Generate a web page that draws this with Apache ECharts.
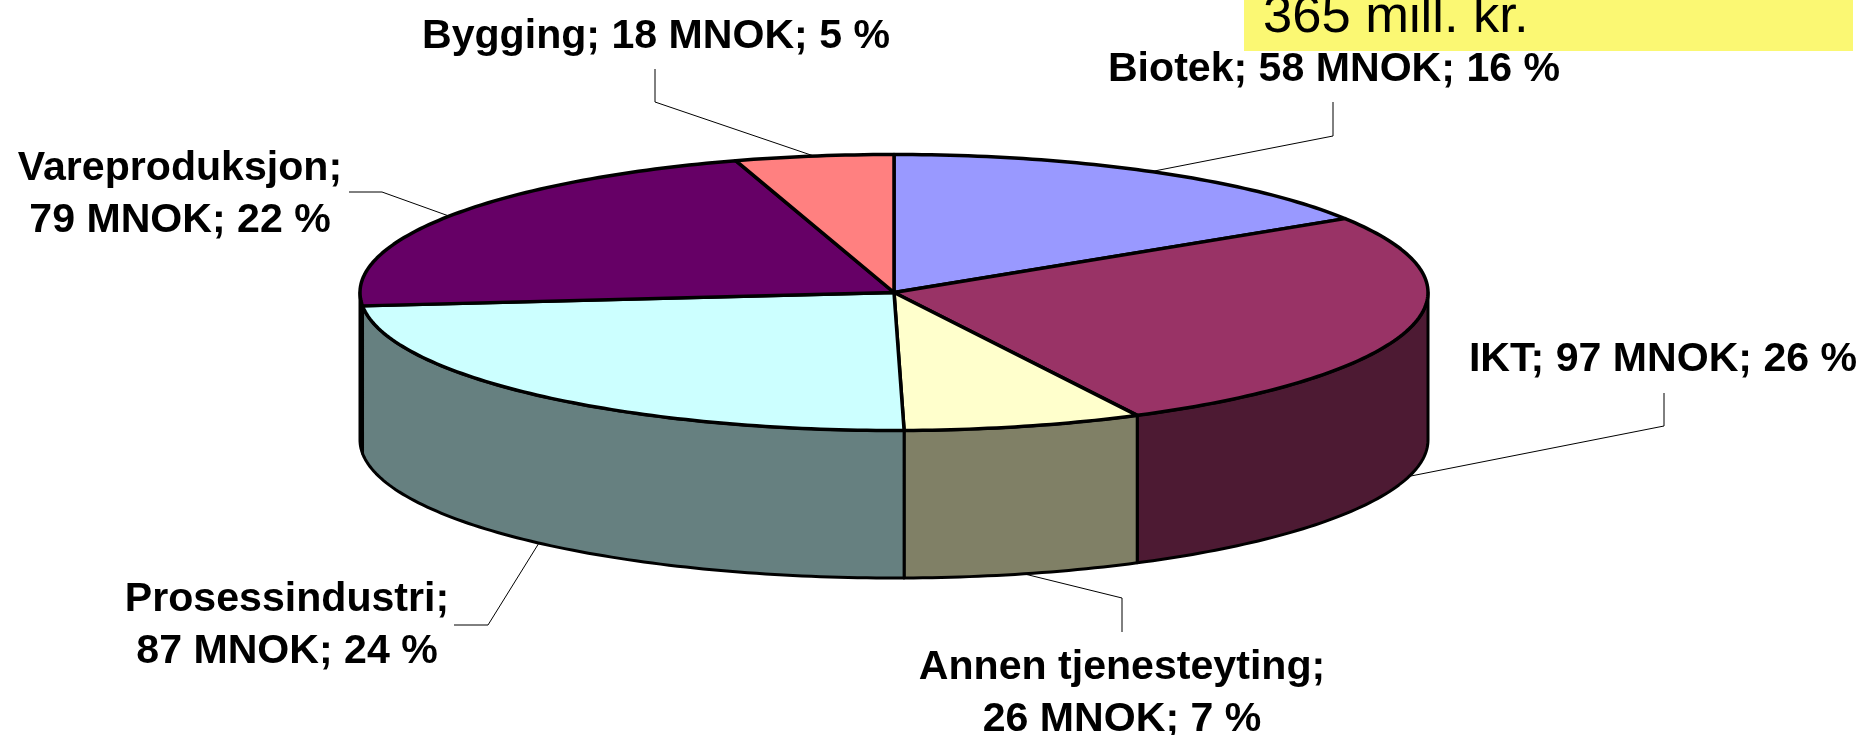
<!DOCTYPE html>
<html>
<head>
<meta charset="utf-8">
<title>365 mill. kr.</title>
<style>
  html, body { margin: 0; padding: 0; background: #fff; }
  #chart { width: 1865px; height: 735px; }
</style>
<script src="https://cdn.jsdelivr.net/npm/echarts@6/dist/echarts.min.js"></script>
</head>
<body>
<div id="chart"></div>
<script>
// values, labels round them to whole MNOK / %
var categories = ['Biotek', 'IKT', 'Annen tjenesteyting', 'Prosessindustri', 'Vareproduksjon', 'Bygging'];
var amounts = [58.49, 96.7, 26.4, 86.8, 79.49, 17.5];
var totalLabel = '365 mill. kr.';
var topColors = ['#9999FF', '#993366', '#FFFFCC', '#CCFFFF', '#660066', '#FF8080'];
var wallColors = ['#4D4D80', '#4D1A33', '#808066', '#668080', '#330033', '#804040'];

// pie layout in pixels
var cx = 894, cy = 292.5, rx = 534, ry = 138, depth = 147.5;
var labelFont = 'bold 41.1px "Liberation Sans", Arial, sans-serif';

// text centre, line break, leader elbow and end for each slice
var labelLayout = [
  { x: 1334, y: 70, wrap: false, elbow: [1333, 136], end: [1333, 102] },
  { x: 1663, y: 360, wrap: false, elbow: [1664, 426], end: [1664, 393] },
  { x: 1122, y: 694, wrap: true, elbow: [1122, 598], end: [1122, 632] },
  { x: 287, y: 626, wrap: true, elbow: [488, 625], end: [454, 625] },
  { x: 180, y: 195, wrap: true, elbow: [382, 192], end: [349, 192] },
  { x: 656, y: 37, wrap: false, elbow: [655, 102], end: [655, 69] }
];

var sum = amounts.reduce(function (a, b) { return a + b; }, 0);

function rimPoint(deg, drop) {
  var rad = deg * Math.PI / 180;
  return [cx + rx * Math.sin(rad), cy - ry * Math.cos(rad) + drop];
}

function arcPoints(from, to, drop) {
  var pts = [];
  for (var a = from; a < to; a += 1) {
    pts.push(rimPoint(a, drop));
  }
  pts.push(rimPoint(to, drop));
  return pts;
}

function renderSlice(params, api) {
  var i = params.dataIndex;
  var before = amounts.slice(0, i).reduce(function (a, b) { return a + b; }, 0);
  var start = before / sum * 360;
  var end = (before + api.value(0)) / sum * 360;
  var mid = (start + end) / 2;
  var children = [];

  // only the front half has a visible wall
  var wallFrom = Math.max(start, 90);
  var wallTo = Math.min(end, 270);
  if (wallFrom < wallTo) {
    children.push({
      type: 'polygon',
      z2: 1,
      shape: { points: arcPoints(wallFrom, wallTo, 0).concat(arcPoints(wallFrom, wallTo, depth).reverse()) },
      style: { fill: wallColors[i], stroke: '#000', lineWidth: 3, lineJoin: 'round' }
    });
  }

  children.push({
    type: 'polygon',
    z2: 2,
    shape: { points: [[cx, cy]].concat(arcPoints(start, end, 0)) },
    style: { fill: topColors[i], stroke: '#000', lineWidth: 3.5, lineJoin: 'round' }
  });

  // leader starts on the outer rim at the middle of the slice
  var front = mid > 90 && mid < 270;
  var layout = labelLayout[i];
  children.push({
    type: 'polyline',
    z2: 0,
    shape: { points: [rimPoint(mid, front ? depth : 0), layout.elbow, layout.end] },
    style: { fill: null, stroke: '#000', lineWidth: 1 }
  });

  var pct = Math.round(api.value(0) / sum * 100);
  children.push({
    type: 'text',
    z2: 3,
    style: {
      text: categories[i] + ';' + (layout.wrap ? '\n' : ' ') + Math.round(api.value(0)) + ' MNOK; ' + pct + ' %',
      x: layout.x,
      y: layout.y,
      textAlign: 'center',
      textVerticalAlign: 'middle',
      font: labelFont,
      lineHeight: 52,
      fill: '#000'
    }
  });

  return { type: 'group', children: children };
}

var chart = echarts.init(document.getElementById('chart'));
chart.setOption({
  animation: false,
  backgroundColor: '#fff',
  graphic: [
    {
      type: 'rect',
      z: 10,
      shape: { x: 1244, y: 0, width: 609, height: 51 },
      style: { fill: '#FBF873' }
    },
    {
      type: 'text',
      z: 11,
      style: {
        text: totalLabel,
        x: 1263,
        y: 44,
        textAlign: 'left',
        textVerticalAlign: 'bottom',
        font: '52.5px "Liberation Sans", Arial, sans-serif',
        fill: '#000'
      }
    }
  ],
  series: [
    {
      type: 'custom',
      coordinateSystem: 'none',
      silent: true,
      data: amounts,
      renderItem: renderSlice
    }
  ]
});
</script>
</body>
</html>
